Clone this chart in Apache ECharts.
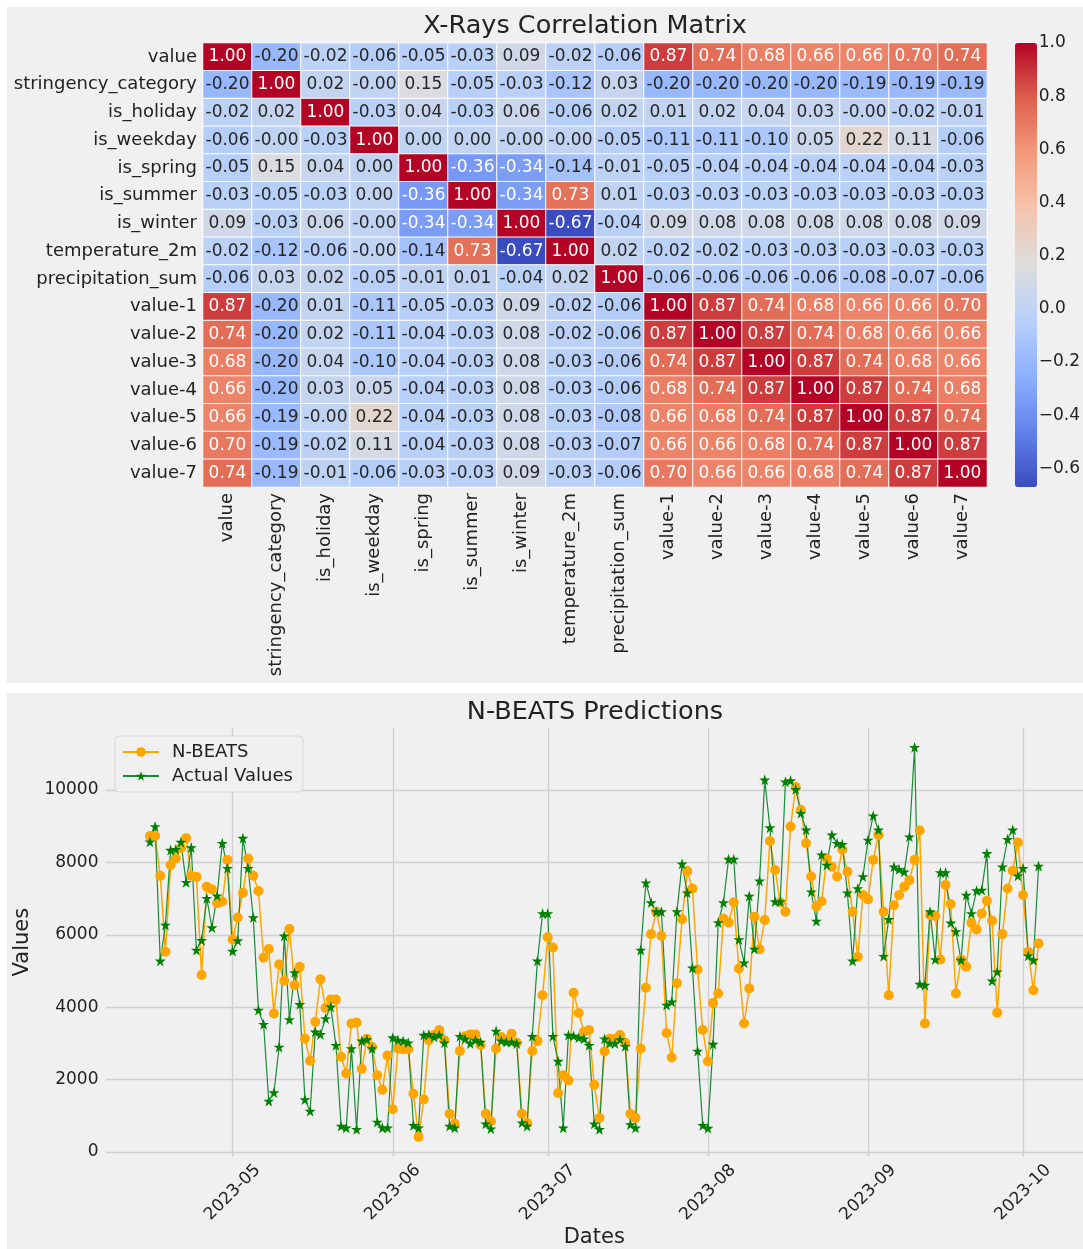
<!DOCTYPE html>
<html>
<head>
<meta charset="utf-8">
<script src="https://cdn.jsdelivr.net/npm/echarts@6/dist/echarts.min.js"></script>
<style>
  html, body { margin: 0; padding: 0; background: #ffffff; }
  #chart { width: 1083px; height: 1249px; }
</style>
</head>
<body>
<div id="chart"></div>
<script>
// ---- correlation matrix ----
const variables = [
  'value', 'stringency_category', 'is_holiday', 'is_weekday', 'is_spring',
  'is_summer', 'is_winter', 'temperature_2m', 'precipitation_sum',
  'value-1', 'value-2', 'value-3', 'value-4', 'value-5', 'value-6', 'value-7'
];

// one row per variable, coefficients as printed in the cells
const corrRows = [
  '1.00 -0.20 -0.02 -0.06 -0.05 -0.03 0.09 -0.02 -0.06 0.87 0.74 0.68 0.66 0.66 0.70 0.74',
  '-0.20 1.00 0.02 -0.00 0.15 -0.05 -0.03 -0.12 0.03 -0.20 -0.20 -0.20 -0.20 -0.19 -0.19 -0.19',
  '-0.02 0.02 1.00 -0.03 0.04 -0.03 0.06 -0.06 0.02 0.01 0.02 0.04 0.03 -0.00 -0.02 -0.01',
  '-0.06 -0.00 -0.03 1.00 0.00 0.00 -0.00 -0.00 -0.05 -0.11 -0.11 -0.10 0.05 0.22 0.11 -0.06',
  '-0.05 0.15 0.04 0.00 1.00 -0.36 -0.34 -0.14 -0.01 -0.05 -0.04 -0.04 -0.04 -0.04 -0.04 -0.03',
  '-0.03 -0.05 -0.03 0.00 -0.36 1.00 -0.34 0.73 0.01 -0.03 -0.03 -0.03 -0.03 -0.03 -0.03 -0.03',
  '0.09 -0.03 0.06 -0.00 -0.34 -0.34 1.00 -0.67 -0.04 0.09 0.08 0.08 0.08 0.08 0.08 0.09',
  '-0.02 -0.12 -0.06 -0.00 -0.14 0.73 -0.67 1.00 0.02 -0.02 -0.02 -0.03 -0.03 -0.03 -0.03 -0.03',
  '-0.06 0.03 0.02 -0.05 -0.01 0.01 -0.04 0.02 1.00 -0.06 -0.06 -0.06 -0.06 -0.08 -0.07 -0.06',
  '0.87 -0.20 0.01 -0.11 -0.05 -0.03 0.09 -0.02 -0.06 1.00 0.87 0.74 0.68 0.66 0.66 0.70',
  '0.74 -0.20 0.02 -0.11 -0.04 -0.03 0.08 -0.02 -0.06 0.87 1.00 0.87 0.74 0.68 0.66 0.66',
  '0.68 -0.20 0.04 -0.10 -0.04 -0.03 0.08 -0.03 -0.06 0.74 0.87 1.00 0.87 0.74 0.68 0.66',
  '0.66 -0.20 0.03 0.05 -0.04 -0.03 0.08 -0.03 -0.06 0.68 0.74 0.87 1.00 0.87 0.74 0.68',
  '0.66 -0.19 -0.00 0.22 -0.04 -0.03 0.08 -0.03 -0.08 0.66 0.68 0.74 0.87 1.00 0.87 0.74',
  '0.70 -0.19 -0.02 0.11 -0.04 -0.03 0.08 -0.03 -0.07 0.66 0.66 0.68 0.74 0.87 1.00 0.87',
  '0.74 -0.19 -0.01 -0.06 -0.03 -0.03 0.09 -0.03 -0.06 0.70 0.66 0.66 0.68 0.74 0.87 1.00'
];

const colorbarMin = -0.67;
const colorbarMax = 1.0;
const colorbarTicks = [-0.6, -0.4, -0.2, 0.0, 0.2, 0.4, 0.6, 0.8, 1.0];

// ---- daily predictions vs. actuals (first day 2023-04-15) ----
const startDay = { year: 2023, month: 4, day: 15 };

const nbeats = [
  8730, 8730, 7630, 5530, 7930, 8110, 8400, 8670, 7630, 7600,
  4890, 7330, 7260, 6870, 6920, 8070, 5870, 6480, 7160, 8110,
  7630, 7210, 5370, 5610, 3830, 5180, 4730, 6160, 4610, 5120,
  3130, 2520, 3600, 4770, 3980, 4210, 4210, 2630, 2170, 3550,
  3580, 2300, 3130, 2900, 2120, 1720, 2670, 1180, 2860, 2840,
  2840, 1610, 415, 1450, 3090, 3230, 3370, 3090, 1060, 780,
  2790, 3200, 3250, 3250, 2950, 1060, 850, 2860, 3180, 3100,
  3270, 3020, 1060, 800, 2790, 3070, 4330, 5930, 5650, 1630,
  2120, 1980, 4400, 3840, 3320, 3370, 1860, 940, 2780, 3130,
  3130, 3230, 3020, 1060, 940, 2860, 4540, 6020, 6640, 5970,
  3290, 2610, 4660, 6430, 7760, 7280, 5040, 3370, 2510, 4120,
  4380, 6450, 6340, 6900, 5070, 3550, 4520, 6500, 5600, 6410,
  8590, 7790, 6900, 6640, 8990, 10080, 9450, 8530, 7610, 6780,
  6920, 8110, 7880, 7610, 8360, 7740, 6640, 5390, 7100, 6980,
  8070, 8760, 6640, 4330, 6820, 7100, 7330, 7510, 8070, 8880,
  3550, 6550, 6520, 5320, 7380, 6850, 4380, 5320, 5120, 6330,
  6150, 6590, 6940, 6390, 3850, 6020, 7280, 7770, 8550, 7100,
  5530, 4470, 5760
];

const actual = [
  8570, 8990, 5280, 6270, 8340, 8360, 8560, 7450, 8410, 5580,
  5850, 7010, 6200, 7080, 8530, 7840, 5550, 5840, 8670, 7840,
  6480, 3920, 3530, 1410, 1640, 2900, 5970, 3660, 4960, 4080,
  1450, 1130, 3320, 3250, 3690, 4010, 2950, 720, 670, 2860,
  630, 3070, 3110, 2860, 830, 670, 670, 3160, 3090, 3070,
  3020, 740, 670, 3230, 3250, 3180, 3230, 3020, 720, 670,
  3200, 3130, 3000, 3090, 3040, 780, 645, 3340, 3070, 3040,
  3040, 3000, 810, 720, 3200, 5280, 6590, 6590, 3200, 2510,
  670, 3230, 3210, 3160, 3130, 2950, 780, 630, 3130, 3010,
  3000, 3110, 2920, 760, 670, 5580, 7440, 6890, 6640, 6640,
  4060, 4150, 6640, 7960, 7160, 5090, 2790, 740, 660, 2980,
  6340, 6890, 8090, 8090, 5870, 5230, 7070, 5610, 7490, 10280,
  8960, 6920, 6920, 10230, 10260, 10020, 9360, 8900, 7190, 6380,
  8210, 7930, 8760, 8530, 8500, 7160, 5280, 7280, 7610, 8620,
  9290, 8900, 5410, 6430, 7880, 7810, 7740, 8710, 11180, 4640,
  4610, 6640, 5320, 7720, 7720, 6330, 6090, 5300, 7100, 6590,
  7220, 7240, 8250, 4730, 4980, 7880, 8640, 8900, 7630, 7840,
  5420, 5300, 7900
];

const monthTicks = ['2023-05-01', '2023-06-01', '2023-07-01', '2023-08-01', '2023-09-01', '2023-10-01'];
const valueTicks = [0, 2000, 4000, 6000, 8000, 10000];

// ---- styling ----
const FONT = 'DejaVu Sans';
const TEXT = '#222222';
const GRID_LINE = '#cfcfcf';
const coolwarm = ['#3b4cc0', '#6282ea', '#8db0fe', '#b8d0f9', '#dddddd',
                  '#f5c4ad', '#f49a7b', '#de604d', '#b40426'];
const STAR = 'path://M50,0L61.23,34.55L97.55,34.55L68.17,55.9L79.39,90.45L50,69.1L20.61,90.45L31.83,55.9L2.45,34.55L38.77,34.55Z';

// heatmap cells
const heatData = [];
corrRows.forEach((row, r) => {
  row.trim().split(/\s+/).forEach((txt, c) => {
    heatData.push({ value: [c, r, parseFloat(txt)], txt: txt });
  });
});

// daily dates as local-time timestamps
function pad(n) { return (n < 10 ? '0' : '') + n; }
const dayTs = nbeats.map((_, i) =>
  new Date(startDay.year, startDay.month - 1, startDay.day + i).getTime());
const ts = s => echarts.number.parseDate(s).getTime();

// axis extents with a 5% margin around the data
const t0 = dayTs[0], t1 = dayTs[dayTs.length - 1];
const xMin = t0 - 0.05 * (t1 - t0), xMax = t1 + 0.05 * (t1 - t0);
const allVals = nbeats.concat(actual);
const vLo = Math.min.apply(null, allVals), vHi = Math.max.apply(null, allVals);
const yMin = vLo - 0.05 * (vHi - vLo), yMax = vHi + 0.05 * (vHi - vLo);
const monthTickTs = monthTicks.map(ts);

function fmtMonth(v) {
  const d = new Date(v);
  return d.getFullYear() + '-' + pad(d.getMonth() + 1);
}

const chart = echarts.init(document.getElementById('chart'), null, { renderer: 'canvas' });

const option = {
  animation: false,
  backgroundColor: '#ffffff',
  textStyle: { fontFamily: FONT, color: TEXT },
  graphic: {
    elements: [
      { type: 'rect', z: -10, shape: { x: 7, y: 7, width: 1076, height: 676 }, style: { fill: '#f0f0f0' }, silent: true },
      { type: 'rect', z: -10, shape: { x: 7, y: 693, width: 1076, height: 556 }, style: { fill: '#f0f0f0' }, silent: true },
      { type: 'text', z: 10, x: 585, y: 26, style: { text: 'X-Rays Correlation Matrix', font: '25.5px "DejaVu Sans"', fill: TEXT, textAlign: 'center', textVerticalAlign: 'middle' } },
      { type: 'text', z: 10, x: 595, y: 712, style: { text: 'N-BEATS Predictions', font: '25.5px "DejaVu Sans"', fill: TEXT, textAlign: 'center', textVerticalAlign: 'middle' } }
    ]
  },
  grid: [
    { left: 203, top: 43, width: 784, height: 444 },
    { left: 105.5, top: 727.8, width: 979, height: 428.7 },
    { left: 1015, top: 43, width: 22, height: 444 }
  ],
  xAxis: [
    {
      type: 'category', gridIndex: 0, data: variables,
      axisLine: { show: false }, axisTick: { show: false }, splitLine: { show: false },
      axisLabel: { rotate: 90, margin: 6, fontSize: 18, color: TEXT, fontFamily: FONT, interval: 0 }
    },
    {
      type: 'value', gridIndex: 1, min: xMin, max: xMax,
      axisLine: { show: false },
      axisTick: { show: false, customValues: monthTickTs },
      splitLine: { show: true, lineStyle: { color: GRID_LINE, width: 1.3 } },
      axisLabel: {
        customValues: monthTickTs, rotate: 45, align: 'center', verticalAlign: 'middle',
        margin: 36, fontSize: 17, color: TEXT, fontFamily: FONT,
        formatter: fmtMonth
      },
      name: 'Dates', nameLocation: 'middle', nameGap: 68,
      nameTextStyle: { fontSize: 21, color: TEXT, fontFamily: FONT }
    },
    { type: 'value', gridIndex: 2, show: false, min: 0, max: 1 }
  ],
  yAxis: [
    {
      type: 'category', gridIndex: 0, data: variables, inverse: true,
      axisLine: { show: false }, axisTick: { show: false }, splitLine: { show: false },
      axisLabel: { margin: 6, fontSize: 18, color: TEXT, fontFamily: FONT, interval: 0 }
    },
    {
      type: 'value', gridIndex: 1, min: yMin, max: yMax,
      axisLine: { show: false },
      axisTick: { show: false, customValues: valueTicks },
      splitLine: { show: true, lineStyle: { color: GRID_LINE, width: 1.3 } },
      axisLabel: {
        customValues: valueTicks, margin: 7, fontSize: 17, color: TEXT, fontFamily: FONT,
        formatter: v => String(Math.round(v))
      },
      name: 'Values', nameLocation: 'middle', nameGap: 62,
      nameTextStyle: { fontSize: 21, color: TEXT, fontFamily: FONT }
    },
    {
      type: 'value', gridIndex: 2, min: colorbarMin, max: colorbarMax, position: 'right',
      axisLine: { show: false },
      axisTick: { show: false, customValues: colorbarTicks },
      splitLine: { show: false },
      axisLabel: {
        customValues: colorbarTicks, margin: 7, fontSize: 17, color: TEXT, fontFamily: FONT,
        formatter: v => v.toFixed(1).replace('-', '\u2212')
      }
    }
  ],
  visualMap: {
    type: 'continuous', seriesIndex: 0, min: colorbarMin, max: colorbarMax,
    orient: 'vertical', left: 1015, top: 43, itemWidth: 22, itemHeight: 444,
    padding: 0, calculable: false, hoverLink: false,
    inRange: { color: coolwarm }
  },
  legend: {
    left: 115, top: 736, orient: 'vertical',
    data: ['N-BEATS', 'Actual Values'],
    itemWidth: 36, itemHeight: 12, itemGap: 6,
    padding: [7, 10, 7, 7],
    backgroundColor: '#f0f0f0', borderColor: '#d6d6d6', borderWidth: 1, borderRadius: 4,
    textStyle: { fontSize: 18, color: TEXT, fontFamily: FONT, padding: [0, 0, 0, 8] }
  },
  series: [
    {
      type: 'heatmap', xAxisIndex: 0, yAxisIndex: 0, data: heatData,
      itemStyle: { borderColor: '#ffffff', borderWidth: 1 },
      emphasis: { disabled: true },
      label: {
        show: true, fontFamily: FONT,
        formatter: p => {
          const v = p.value[2];
          return (v >= 0.6 || v <= -0.3 ? '{w|' : '{d|') + p.data.txt + '}';
        },
        rich: {
          w: { color: '#ffffff', fontSize: 17, fontFamily: FONT },
          d: { color: '#262626', fontSize: 17, fontFamily: FONT }
        }
      }
    },
    {
      name: 'N-BEATS', type: 'line', xAxisIndex: 1, yAxisIndex: 1,
      data: dayTs.map((t, i) => [t, nbeats[i]]),
      symbol: 'circle', symbolSize: 10, showAllSymbol: true,
      lineStyle: { color: '#ffa500', width: 1.5 },
      itemStyle: { color: '#ffa500' },
      emphasis: { disabled: true }
    },
    {
      name: 'Actual Values', type: 'line', xAxisIndex: 1, yAxisIndex: 1,
      data: dayTs.map((t, i) => [t, actual[i]]),
      symbol: STAR, symbolSize: 11, showAllSymbol: true,
      lineStyle: { color: '#1a8a3a', width: 1.2 },
      itemStyle: { color: '#008000' },
      emphasis: { disabled: true }
    }
  ]
};

chart.setOption(option);
</script>
</body>
</html>
